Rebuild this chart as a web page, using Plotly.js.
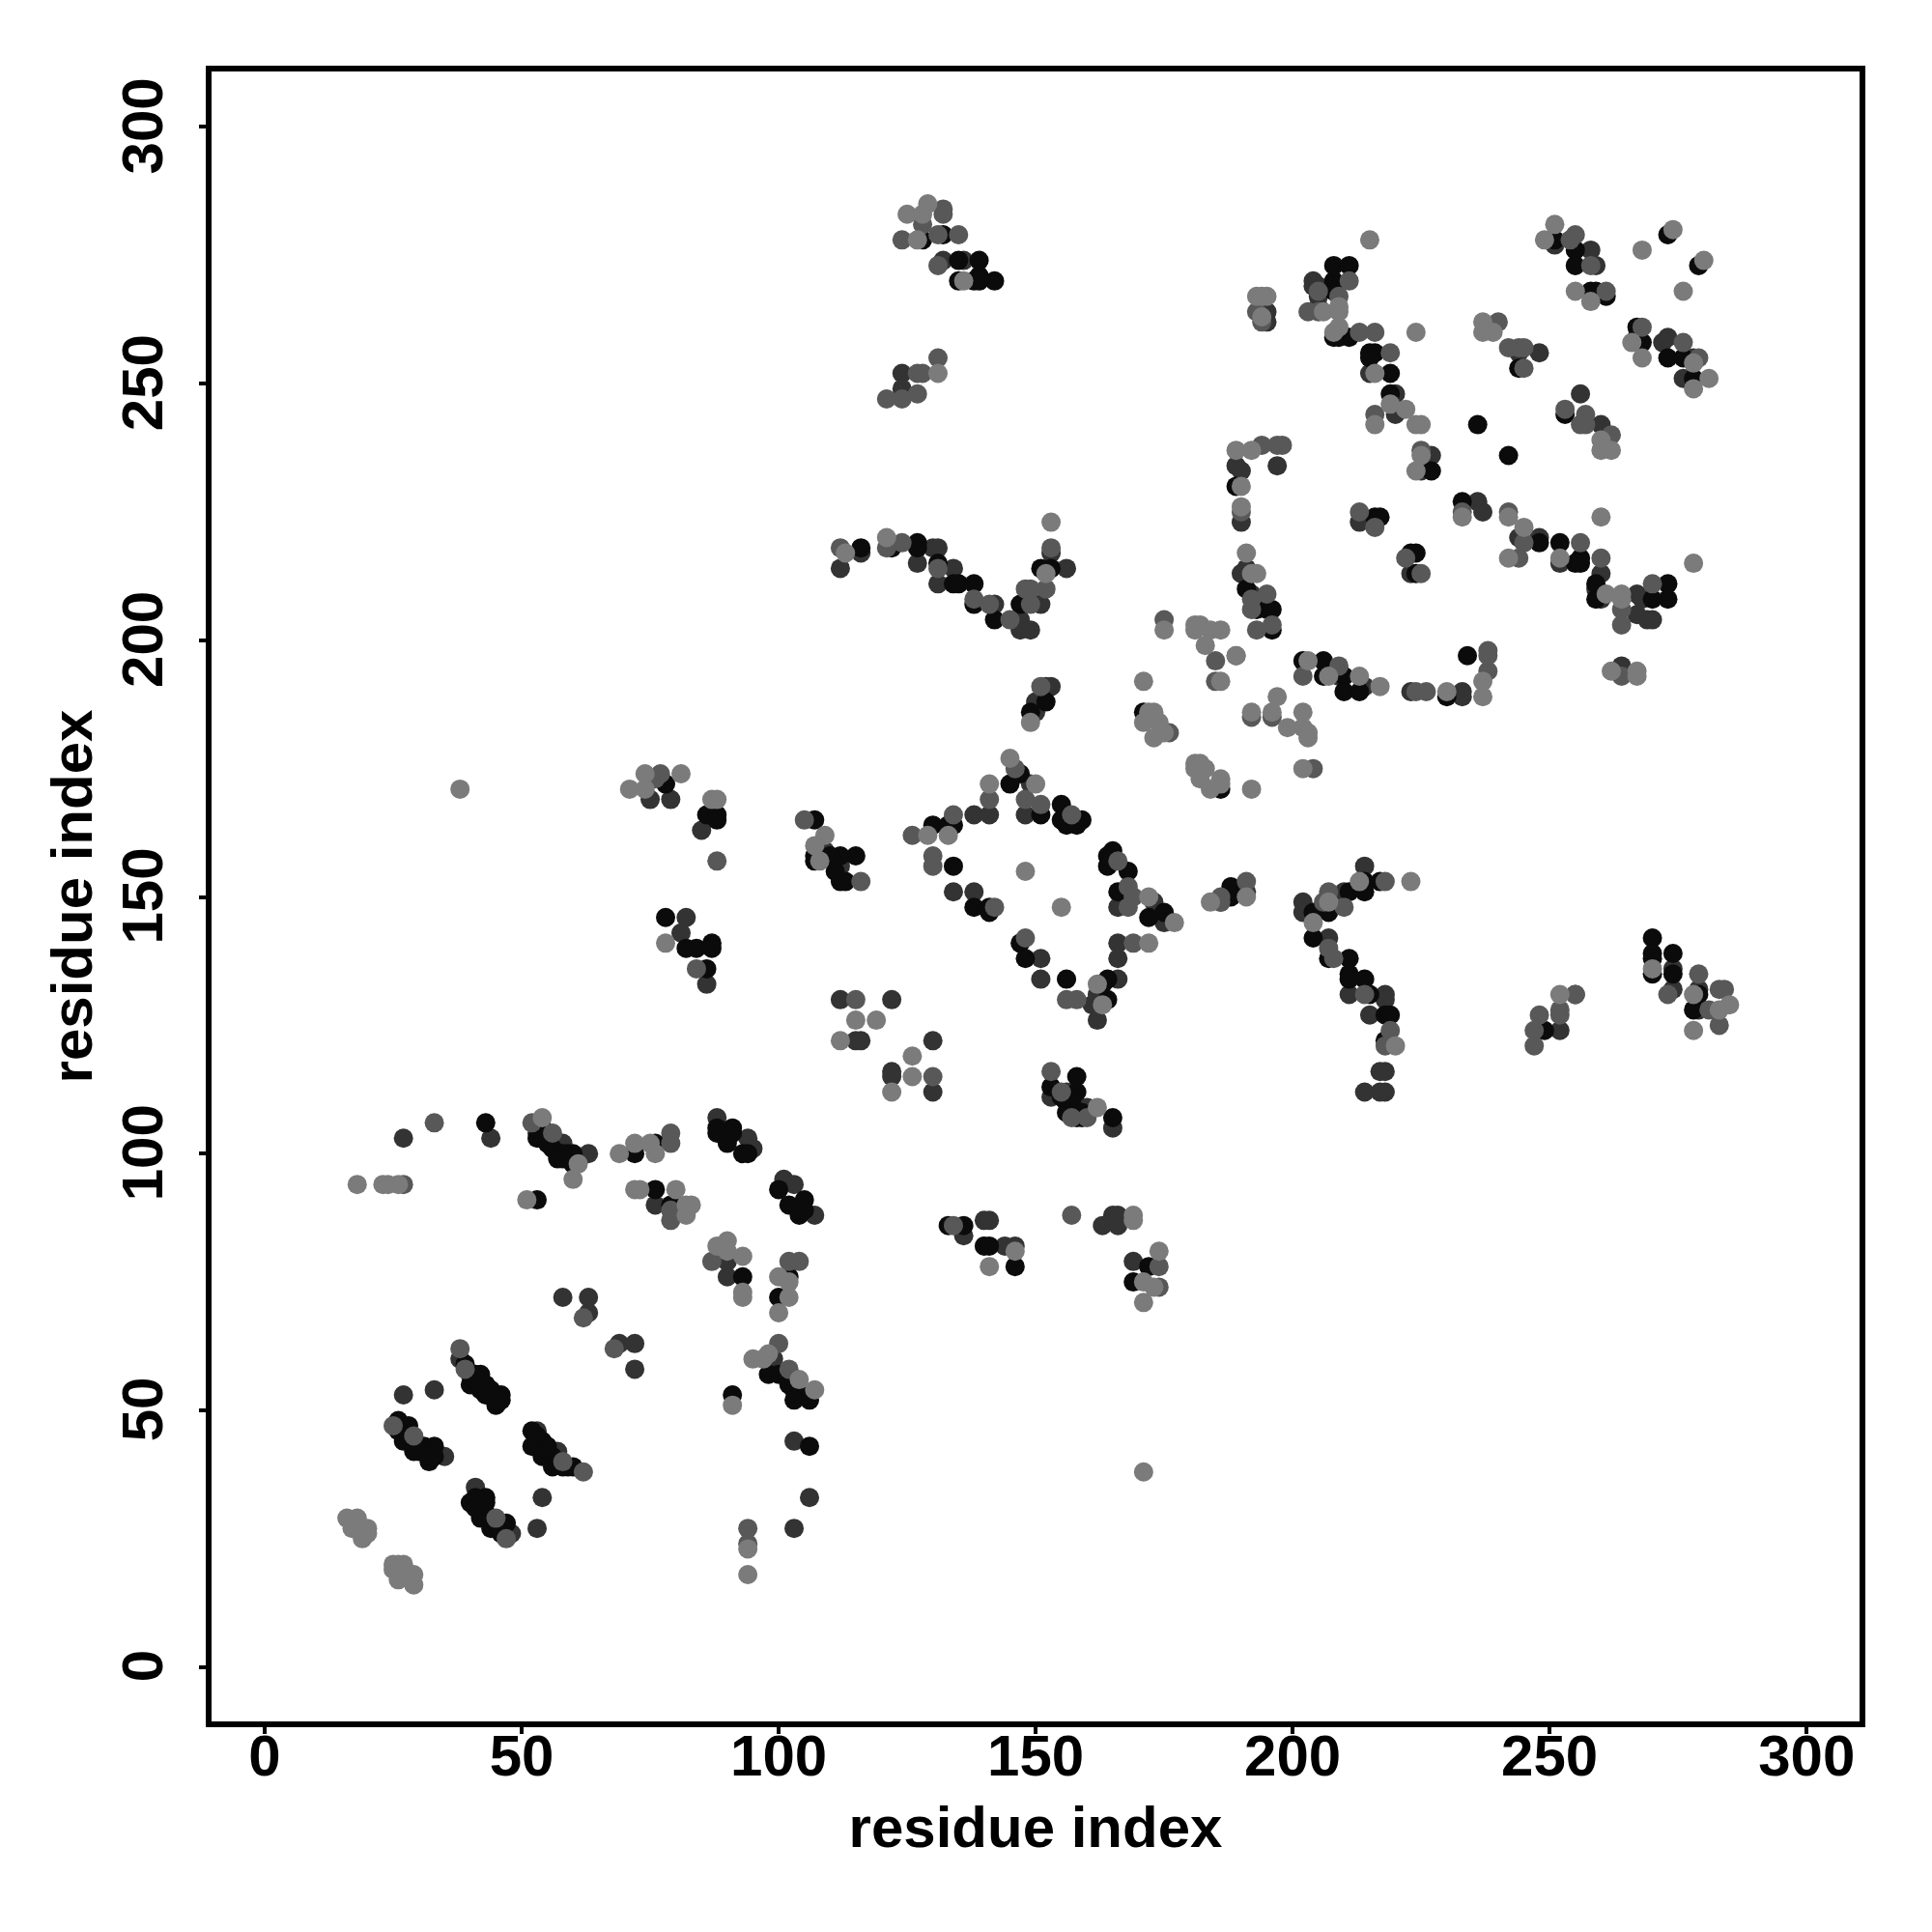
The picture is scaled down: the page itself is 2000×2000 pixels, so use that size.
<!DOCTYPE html>
<html><head><meta charset="utf-8">
<script src="https://cdn.plot.ly/plotly-3.0.1.min.js"></script>
<style>html,body{margin:0;padding:0;background:#fff}</style></head>
<body><div id="chart" style="width:2000px;height:2000px"></div>
<script>
const lightPoints = [[18,94],[23,94],[24,94],[26,94],[51,91],[54,107],[60,95],[61,98],[69,100],[72,102],[76,100],[75,102],[72,93],[73,93],[80,93],[82,88],[83,90],[82,90],[90,83],[88,82],[90,81],[93,80],[93,73],[93,72],[100,76],[102,75],[102,72],[100,69],[95,60],[98,61],[97,60],[104,56],[107,54],[91,51],[94,23],[94,18],[16,29],[18,29],[17,27],[20,27],[19,25],[20,26],[25,20],[26,20],[27,20],[25,19],[26,17],[29,18],[29,16],[27,18],[38,171],[171,38],[109,162],[107,160],[108,157],[129,162],[133,162],[141,172],[148,155],[155,148],[162,133],[163,129],[172,141],[172,150],[177,145],[184,149],[191,150],[115,126],[119,126],[112,122],[126,119],[126,115],[122,112],[162,109],[146,81],[141,78],[169,88],[169,87],[174,81],[171,75],[173,74],[171,71],[125,283],[129,285],[128,283],[127,278],[136,270],[131,252],[121,220],[152,213],[153,223],[113,217],[175,202],[181,203],[182,203],[181,202],[184,202],[186,202],[183,199],[189,197],[186,192],[171,192],[149,184],[172,186],[173,186],[171,184],[174,184],[173,181],[175,182],[192,186],[196,186],[197,189],[199,183],[202,186],[202,183],[203,182],[203,181],[202,175],[192,171],[181,176],[182,176],[181,175],[182,173],[183,175],[186,173],[184,171],[186,172],[203,196],[207,193],[213,193],[217,191],[230,190],[237,189],[237,192],[262,194],[267,194],[267,193],[204,145],[207,149],[213,153],[223,153],[220,121],[252,131],[270,136],[278,131],[278,124],[283,128],[285,129],[215,278],[206,264],[209,264],[209,265],[193,267],[194,267],[195,267],[194,263],[208,260],[209,261],[216,252],[219,246],[222,245],[216,242],[224,260],[224,242],[225,242],[225,236],[224,233],[189,237],[192,237],[190,230],[190,226],[191,217],[192,213],[193,213],[251,281],[249,278],[255,268],[258,266],[268,276],[274,280],[280,274],[276,268],[266,258],[268,255],[278,254],[281,251],[278,249],[237,262],[237,260],[239,260],[260,239],[260,237],[262,237],[233,224],[242,224],[245,222],[242,216],[252,216],[260,224],[278,215],[261,209],[264,209],[264,208],[71,171],[74,174],[74,171],[81,174],[87,169],[88,169],[78,141],[145,177],[150,172]];
const midPoints = [[27,94],[33,106],[52,106],[56,104],[79,102],[79,104],[79,87],[79,89],[87,79],[102,79],[104,79],[62,68],[68,62],[100,63],[102,58],[38,62],[25,47],[62,38],[94,27],[94,24],[47,25],[105,165],[116,153],[126,162],[134,166],[130,158],[130,156],[142,148],[141,169],[148,142],[156,130],[158,130],[169,141],[166,157],[168,152],[168,148],[169,150],[186,149],[191,153],[186,150],[115,130],[130,115],[153,116],[160,107],[157,107],[134,86],[157,88],[174,78],[174,74],[131,279],[124,278],[132,284],[132,283],[128,281],[135,279],[131,273],[131,255],[127,252],[128,252],[124,247],[121,247],[127,248],[112,218],[121,218],[124,219],[131,214],[138,208],[141,207],[145,204],[149,207],[152,210],[153,218],[151,191],[175,204],[185,196],[189,197],[185,192],[176,182],[192,185],[196,185],[204,175],[202,193],[209,195],[224,190],[226,190],[238,194],[238,198],[238,197],[264,193],[206,149],[207,151],[210,148],[218,153],[207,140],[208,138],[214,131],[219,124],[218,121],[255,131],[248,127],[252,128],[252,127],[247,124],[247,121],[273,131],[279,135],[281,128],[283,132],[284,132],[283,125],[211,270],[205,268],[203,264],[205,264],[209,267],[193,264],[194,262],[213,260],[216,260],[219,256],[216,244],[225,237],[194,238],[198,238],[197,238],[190,225],[192,206],[195,209],[193,202],[254,278],[255,279],[258,273],[261,268],[268,261],[276,258],[279,255],[240,262],[242,257],[244,257],[245,257],[245,253],[253,245],[257,244],[257,242],[256,242],[262,240],[233,225],[242,225],[245,219],[256,219],[244,216],[260,216],[270,211],[264,206],[264,203],[222,216],[225,213],[213,225],[216,222],[77,174],[76,173],[88,157],[84,136],[148,169],[151,168],[157,166],[146,175],[58,40],[45,29],[155,112],[192,208],[196,203],[39,58],[29,45],[148,210],[149,210]];
const darkPoints = [[27,103],[44,103],[53,104],[58,102],[63,100],[76,90],[80,90],[94,103],[95,101],[88,107],[107,88],[101,95],[103,94],[90,79],[90,76],[58,72],[63,72],[63,69],[69,63],[72,63],[72,58],[99,60],[103,44],[106,33],[103,27],[38,60],[27,53],[33,54],[35,41],[53,46],[57,42],[54,33],[53,27],[41,35],[48,26],[109,159],[112,156],[134,151],[138,151],[138,166],[141,166],[151,138],[151,134],[162,126],[166,134],[166,138],[166,141],[166,148],[173,149],[175,145],[186,149],[191,151],[112,130],[122,130],[115,122],[116,122],[130,122],[122,116],[122,115],[130,112],[153,111],[156,112],[160,109],[165,105],[136,84],[140,87],[141,87],[144,82],[146,82],[163,86],[165,88],[166,88],[166,86],[169,79],[124,252],[124,249],[132,274],[136,274],[112,214],[116,217],[130,218],[131,218],[127,215],[134,214],[131,211],[142,207],[147,204],[147,202],[149,202],[151,207],[156,214],[153,217],[153,191],[152,191],[150,186],[150,188],[214,191],[223,190],[233,190],[233,189],[209,193],[264,195],[202,149],[202,147],[210,151],[214,156],[207,142],[211,131],[218,131],[218,130],[215,127],[217,116],[218,116],[214,112],[218,112],[217,112],[255,131],[252,124],[274,136],[274,132],[279,132],[279,128],[204,270],[204,269],[205,269],[205,267],[205,265],[195,264],[195,262],[220,244],[215,252],[220,248],[227,236],[225,233],[189,234],[190,233],[190,223],[190,213],[191,214],[192,209],[197,234],[251,277],[258,276],[259,273],[272,258],[273,259],[278,255],[276,251],[244,256],[248,256],[256,248],[260,242],[236,227],[237,225],[244,220],[248,220],[252,215],[260,213],[260,208],[267,209],[267,205],[268,208],[269,204],[270,204],[259,210],[223,213],[213,223],[75,169],[79,169],[85,163],[82,146],[81,143],[86,133],[149,172],[148,166],[162,131],[161,129]];
const blackPoints = [[43,106],[53,103],[57,100],[57,99],[59,100],[60,100],[60,98],[53,91],[72,100],[76,102],[76,93],[79,90],[88,105],[88,104],[91,105],[90,102],[91,104],[93,100],[94,100],[100,93],[102,90],[105,91],[104,88],[105,89],[93,76],[102,76],[100,72],[98,57],[100,57],[102,55],[103,54],[106,52],[105,53],[103,52],[91,53],[106,43],[40,57],[42,57],[40,55],[42,54],[44,54],[43,53],[46,53],[45,51],[46,52],[26,48],[28,47],[27,45],[27,44],[29,42],[31,43],[33,43],[32,40],[32,41],[52,46],[54,44],[52,43],[54,41],[56,39],[59,39],[43,33],[40,32],[43,32],[42,29],[47,28],[44,27],[46,27],[107,165],[107,158],[107,157],[112,158],[115,158],[110,158],[111,155],[112,153],[113,153],[130,164],[133,164],[134,164],[134,156],[138,148],[141,147],[141,148],[147,141],[148,138],[156,134],[163,133],[164,134],[164,130],[165,159],[164,158],[164,156],[168,155],[166,151],[175,147],[172,146],[188,152],[188,150],[153,113],[158,115],[158,112],[157,110],[157,108],[158,107],[165,107],[133,86],[136,86],[140,82],[141,82],[146,78],[172,78],[169,75],[128,278],[132,279],[135,274],[139,274],[135,270],[138,270],[139,271],[139,270],[142,270],[116,218],[122,218],[127,219],[127,218],[131,215],[134,211],[135,211],[138,211],[138,207],[142,204],[147,207],[151,214],[153,214],[152,188],[149,186],[171,186],[186,171],[202,196],[206,196],[206,193],[210,193],[210,190],[213,190],[230,189],[234,197],[204,147],[207,147],[211,151],[214,153],[214,151],[217,153],[204,142],[207,138],[211,138],[211,135],[211,134],[214,134],[215,131],[218,127],[219,127],[218,122],[249,124],[270,142],[270,139],[274,139],[270,138],[270,135],[274,135],[279,131],[278,128],[208,273],[211,273],[208,270],[208,269],[208,268],[208,259],[211,259],[209,259],[215,256],[216,256],[215,255],[219,252],[219,248],[227,233],[189,230],[191,210],[193,206],[195,206],[196,206],[196,202],[251,278],[255,276],[255,273],[258,268],[259,268],[261,267],[273,279],[279,273],[267,261],[267,259],[268,258],[273,255],[276,255],[278,251],[244,253],[253,244],[236,242],[242,236],[233,227],[248,219],[252,219],[255,215],[256,216],[256,215],[259,211],[259,208],[273,211],[273,208],[270,208],[223,217],[224,217],[224,213],[216,224],[217,224],[78,172],[86,166],[88,166],[88,165],[78,146],[82,140],[84,140],[87,141],[87,140],[86,136],[147,174],[145,172],[151,166],[155,168],[155,165],[159,165],[156,164],[158,164],[39,59],[41,56],[41,57],[43,55],[44,53],[45,52],[26,46],[28,45],[30,43],[30,42],[33,41],[53,45],[53,44],[55,43],[55,42],[56,41],[57,40],[58,39],[60,39],[41,33],[41,31],[43,30],[44,29],[45,28],[46,26],[54,105],[54,103],[55,102],[56,101],[58,100],[58,99],[156,110],[155,111],[156,108],[159,108],[159,107]];
const shadeOrder = [[darkPoints,'#333333'],[blackPoints,'#0b0b0b'],[midPoints,'#585858'],[lightPoints,'#7b7b7b']];
const tickValues = [0,50,100,150,200,250,300];
const axisLabel = 'residue index';
const fontFamily = '"Liberation Sans", Arial, sans-serif';

const traces = shadeOrder.map(([pts,color]) => ({
  type:'scatter', mode:'markers',
  x:pts.map(p=>p[0]), y:pts.map(p=>p[1]),
  marker:{size:20,color:color,line:{width:0}},
  hoverinfo:'x+y', showlegend:false
}));
const axisBase = {
  tickmode:'array', tickvals:tickValues,
  showgrid:false, zeroline:false, showline:true, mirror:true,
  linecolor:'#000', linewidth:6, ticks:'outside', ticklen:7, tickwidth:4, tickcolor:'#000',
  tickfont:{family:fontFamily,size:60,color:'#000',weight:'bold'}
};
const titleFont = {family:fontFamily,size:60,color:'#000',weight:'bold'};
const layout = {
  width:2000,height:2000,paper_bgcolor:'#fff',plot_bgcolor:'#fff',showlegend:false,
  margin:{l:219,r:75,t:74,b:218,pad:0},
  xaxis:Object.assign({},axisBase,{range:[-10.34,310.3],ticklabelstandoff:-29,title:{text:axisLabel,standoff:22,font:titleFont}}),
  yaxis:Object.assign({},axisBase,{range:[-10.6,310.8],tickangle:-90,ticklabelstandoff:14,ticklabelshift:8,title:{text:axisLabel,standoff:1,font:titleFont}})
};
Plotly.newPlot('chart',traces,layout,{displayModeBar:false,responsive:false});
</script></body></html>
